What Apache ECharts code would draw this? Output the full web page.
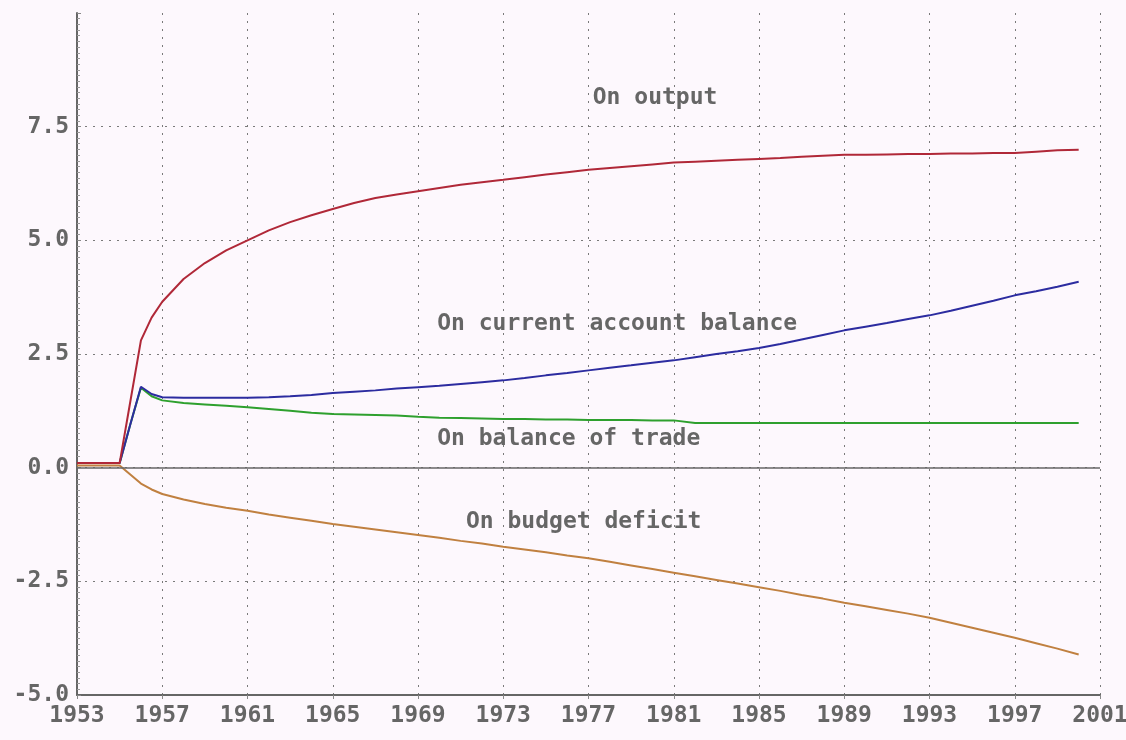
<!DOCTYPE html>
<html>
<head>
<meta charset="utf-8">
<script src="https://cdn.jsdelivr.net/npm/echarts@6/dist/echarts.min.js"></script>
<style>
  html, body { margin: 0; padding: 0; background: #fdf8fd; }
  #chart { width: 1126px; height: 740px; }
</style>
</head>
<body>
<div id="chart"></div>
<script>
// years of the simulation (extra half-year points around the 1955 shock)
const years = [1953, 1954, 1955, 1955.5, 1956, 1956.5, 1957, 1958, 1959, 1960, 1961, 1962, 1963, 1964,
  1965, 1966, 1967, 1968, 1969, 1970, 1971, 1972, 1973, 1974, 1975, 1976, 1977, 1978,
  1979, 1980, 1981, 1982, 1983, 1984, 1985, 1986, 1987, 1988, 1989, 1990, 1991, 1992,
  1993, 1994, 1995, 1996, 1997, 1998, 1999, 2000];

const onOutput = [0.1, 0.1, 0.1, 1.45, 2.8, 3.3, 3.65, 4.15, 4.5, 4.78, 5.0, 5.22, 5.4, 5.55,
  5.69, 5.82, 5.93, 6.01, 6.08, 6.15, 6.22, 6.28, 6.33, 6.39, 6.45, 6.5, 6.55, 6.59,
  6.63, 6.67, 6.71, 6.73, 6.75, 6.77, 6.79, 6.81, 6.84, 6.86, 6.88, 6.88, 6.89, 6.9,
  6.9, 6.91, 6.91, 6.92, 6.92, 6.95, 6.98, 6.99];

const onCurrent = [0.1, 0.1, 0.1, 0.95, 1.78, 1.62, 1.55, 1.54, 1.54, 1.54, 1.54, 1.55, 1.57, 1.6,
  1.64, 1.67, 1.7, 1.74, 1.77, 1.8, 1.84, 1.88, 1.92, 1.97, 2.03, 2.08, 2.14, 2.2,
  2.25, 2.31, 2.36, 2.43, 2.5, 2.56, 2.63, 2.72, 2.82, 2.92, 3.02, 3.1, 3.18, 3.27,
  3.35, 3.45, 3.56, 3.67, 3.79, 3.88, 3.98, 4.09];

const onTrade = [0.1, 0.1, 0.1, 0.95, 1.76, 1.57, 1.48, 1.42, 1.39, 1.36, 1.33, 1.29, 1.25, 1.21,
  1.18, 1.17, 1.16, 1.15, 1.12, 1.1, 1.09, 1.08, 1.07, 1.07, 1.06, 1.06, 1.05, 1.05,
  1.05, 1.04, 1.04, 0.98, 0.98, 0.98, 0.98, 0.98, 0.98, 0.98, 0.98, 0.98, 0.98, 0.98,
  0.98, 0.98, 0.98, 0.98, 0.98, 0.98, 0.98, 0.98];

const onBudget = [0.05, 0.05, 0.05, -0.15, -0.35, -0.48, -0.58, -0.7, -0.8, -0.88, -0.95, -1.03, -1.1, -1.17,
  -1.24, -1.3, -1.36, -1.42, -1.48, -1.54, -1.61, -1.67, -1.74, -1.8, -1.86, -1.93, -1.99, -2.07,
  -2.15, -2.23, -2.31, -2.39, -2.47, -2.55, -2.63, -2.71, -2.8, -2.88, -2.97, -3.05, -3.13, -3.21,
  -3.3, -3.41, -3.52, -3.63, -3.74, -3.86, -3.98, -4.11];

// annotation text with its anchor (year, value)
const labelTexts = ['On output', 'On current account balance', 'On balance of trade', 'On budget deficit'];
const labelYears = [1977.2, 1969.9, 1969.9, 1971.25];
const labelValues = [8.14, 3.15, 0.64, -1.2];

const pairs = vals => years.map((y, i) => [y, vals[i]]);

const font = 'DejaVu Sans Mono';
const textGray = '#666';
const gridStyle = { color: '#7a7a7a', width: 1, type: [2, 6] };

const chart = echarts.init(document.getElementById('chart'));

const lineSeries = (name, vals, color) => ({
  name,
  type: 'line',
  data: pairs(vals),
  showSymbol: false,
  symbol: 'none',
  lineStyle: { color, width: 2 },
  silent: true,
  animation: false
});

const option = {
  backgroundColor: '#fdf8fd',
  animation: false,
  grid: { left: 77, right: 26, top: 13, bottom: 45, outerBoundsMode: 'none', containLabel: false },
  xAxis: {
    type: 'value',
    min: 1953,
    max: 2001,
    interval: 4,
    axisLine: { show: true, onZero: false, lineStyle: { color: '#666', width: 2 } },
    axisTick: { show: true, length: 4, lineStyle: { color: '#888' } },
    axisLabel: {
      color: textGray, fontFamily: font, fontSize: 23, fontWeight: 'bold', margin: 10,
      formatter: v => String(v)
    },
    splitLine: { show: true, showMinLine: false, lineStyle: gridStyle }
  },
  yAxis: {
    type: 'value',
    min: -5,
    max: 10,
    interval: 2.5,
    axisLine: { show: true, lineStyle: { color: '#666', width: 2 } },
    axisTick: { show: true, inside: true, length: 4, lineStyle: { color: '#888' } },
    minorTick: { show: true, splitNumber: 20, length: 3, lineStyle: { color: '#999' } },
    axisLabel: {
      color: textGray, fontFamily: font, fontSize: 23, fontWeight: 'bold', margin: 8,
      formatter: v => (v >= 10 ? '' : v.toFixed(1))
    },
    splitLine: { show: true, showMinLine: false, showMaxLine: false, lineStyle: gridStyle }
  },
  series: [
    Object.assign(lineSeries('On budget deficit', onBudget, '#c08040'), {
      markLine: {
        silent: true,
        symbol: 'none',
        label: { show: false },
        lineStyle: { color: '#666', width: 1.5, type: 'solid' },
        data: [{ yAxis: 0 }]
      }
    }),
    lineSeries('On balance of trade', onTrade, '#2ea02e'),
    lineSeries('On current account balance', onCurrent, '#2c2ca0'),
    lineSeries('On output', onOutput, '#b02838')
  ]
};

chart.setOption(option);

// place the annotations at their data positions
chart.setOption({
  graphic: labelTexts.map((t, i) => {
    const p = chart.convertToPixel({ gridIndex: 0 }, [labelYears[i], labelValues[i]]);
    return {
      type: 'text',
      x: p[0],
      y: p[1],
      silent: true,
      style: {
        text: t,
        fill: textGray,
        font: 'bold 23px "DejaVu Sans Mono"',
        textAlign: 'left',
        textVerticalAlign: 'middle'
      }
    };
  })
});
</script>
</body>
</html>
